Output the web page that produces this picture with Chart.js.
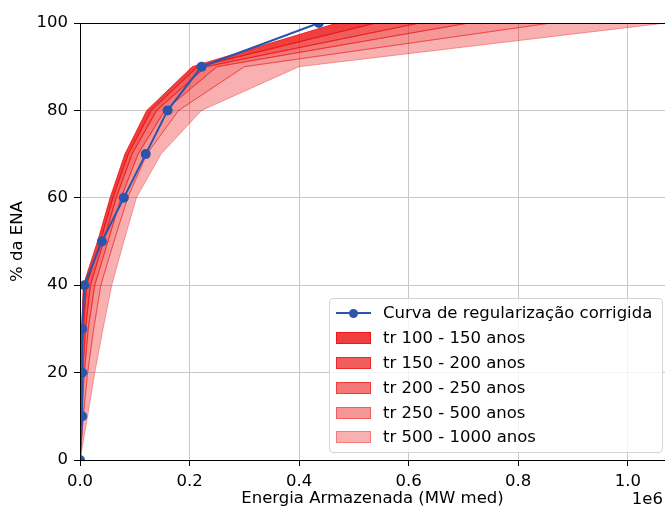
<!DOCTYPE html>
<html lang="pt-BR">
<head>
<meta charset="utf-8">
<title>Curva de regularização</title>
<script src="https://cdn.jsdelivr.net/npm/chart.js@4.4.1/dist/chart.umd.min.js"></script>
<style>
  html, body { margin: 0; padding: 0; background: #fff; }
  #wrap { position: relative; width: 665px; height: 509px; font-family: 'DejaVu Sans', sans-serif; }
  #legend {
    position: absolute; left: 329px; top: 298px; width: 334px; height: 155px;
    box-sizing: border-box; border: 1px solid #d3d3d3; border-radius: 4px;
    background: rgba(255, 255, 255, 0.8); padding-top: 2px;
  }
  .row { display: flex; align-items: center; height: 24.8px; }
  .handle { position: relative; width: 35px; height: 12px; margin-left: 6px; margin-right: 12px; flex: none; }
  .handle .ln { position: absolute; left: 0; top: 5px; width: 35px; height: 2px; }
  .handle .dot { position: absolute; left: 13px; top: 1.5px; width: 9px; height: 9px; border-radius: 50%; }
  .handle .patch { position: absolute; left: 0; top: 0; width: 35px; height: 12px; box-sizing: border-box; }
  .label { font-size: 16.5px; line-height: 20px; color: #000; white-space: nowrap; }
</style>
</head>
<body>
<div id="wrap">
  <canvas id="chart" width="665" height="509"></canvas>
  <div id="legend"></div>
</div>
<script>
(function() {
    'use strict';

    const FONT = 'DejaVu Sans';
    const FONT_SIZE = 16.5;

    // % da ENA (eixo y), comum a todas as curvas
    const enaLevels = [0, 10, 20, 30, 40, 50, 60, 70, 80, 90, 100];

    // Energia armazenada (MW med) para cada nível de ENA
    const curvaCorrigida = [0, 4000, 4000, 4000, 8000, 40000, 80000, 120000, 160000, 222000, 436000];

    // curvas por tempo de retorno
    const tr100  = [0, 1000, 2000, 3000, 6000, 32000, 55000, 82000, 122000, 205000, 470000];
    const tr150  = [0, 1000, 3000, 6000, 12000, 37000, 60000, 88000, 130000, 215000, 540000];
    const tr200  = [0, 2000, 5000, 10000, 19000, 43000, 66000, 95000, 140000, 230000, 620000];
    const tr250  = [0, 3000, 8000, 15000, 27000, 51000, 75000, 106000, 155000, 250000, 710000];
    const tr500  = [0, 6000, 14000, 25000, 38000, 62000, 87000, 122000, 180000, 300000, 860000];
    const tr1000 = [0, 14000, 27000, 42000, 58000, 80000, 103000, 148000, 222000, 400000, 1070000];

    const bandLabels = ['tr 100 - 150 anos', 'tr 150 - 200 anos', 'tr 200 - 250 anos', 'tr 250 - 500 anos', 'tr 500 - 1000 anos'];
    const bandAlphas = [0.8, 0.68, 0.56, 0.43, 0.33];
    const bandLimits = [tr100, tr150, tr200, tr250, tr500, tr1000];

    const xTicks = [0, 200000, 400000, 600000, 800000, 1000000];
    const yTickStep = 20;

    const BLUE = '#2b55ad';

    // polígono fechado: sobe pela curva da esquerda e desce pela da direita
    function bandPoints(left, right) {
        const up = enaLevels.map((y, i) => ({ x: left[i], y: y }));
        const down = enaLevels.map((y, i) => ({ x: right[i], y: y })).reverse();
        return up.concat(down);
    }

    const datasets = [{
        label: 'Curva de regularização corrigida',
        data: enaLevels.map((y, i) => ({ x: curvaCorrigida[i], y: y })),
        borderColor: BLUE,
        backgroundColor: BLUE,
        borderWidth: 2,
        pointRadius: 5,
        pointBorderWidth: 0,
        fill: false,
        clip: 0,
        order: 0
    }];

    bandLabels.forEach((label, i) => {
        const color = 'rgba(235, 15, 15, ' + bandAlphas[i] + ')';
        datasets.push({
            label: label,
            data: bandPoints(bandLimits[i], bandLimits[i + 1]),
            borderColor: color,
            backgroundColor: color,
            borderWidth: 1,
            pointRadius: 0,
            fill: 'shape',
            clip: 0,
            order: i + 1
        });
    });

    // eixos do matplotlib: esquerda, base e topo por cima das séries
    const spines = {
        id: 'spines',
        afterDatasetsDraw(chart) {
            const { ctx, chartArea: a } = chart;
            const px = v => Math.round(v - 0.5) + 0.5;
            ctx.save();
            ctx.strokeStyle = '#000';
            ctx.lineWidth = 1;
            ctx.beginPath();
            ctx.moveTo(px(a.left), px(a.bottom));
            ctx.lineTo(px(a.left), px(a.top));
            ctx.moveTo(a.left, px(a.top));
            ctx.lineTo(a.right, px(a.top));
            ctx.moveTo(a.left, px(a.bottom));
            ctx.lineTo(a.right, px(a.bottom));
            ctx.stroke();
            ctx.restore();
        },
        afterDraw(chart) {
            // multiplicador do eixo x
            const { ctx, chartArea: a } = chart;
            ctx.save();
            ctx.fillStyle = '#000';
            ctx.font = FONT_SIZE + 'px "' + FONT + '"';
            ctx.textAlign = 'right';
            ctx.textBaseline = 'middle';
            ctx.fillText('1e6', a.right - 2, 500);
            ctx.restore();
        }
    };

    const chart = new Chart(document.getElementById('chart'), {
        type: 'line',
        data: { datasets: datasets },
        options: {
            responsive: false,
            animation: false,
            events: [],
            layout: { autoPadding: false, padding: { top: 23, right: 0, bottom: 0, left: 0 } },
            elements: { line: { tension: 0 } },
            plugins: {
                legend: { display: false },
                tooltip: { enabled: false }
            },
            scales: {
                x: {
                    type: 'linear',
                    min: 0,
                    max: 1068000,
                    grid: { color: '#c8c8c8', lineWidth: 1, tickLength: 6, tickColor: '#000' },
                    border: { color: '#000', width: 1 },
                    ticks: {
                        maxRotation: 0,
                        autoSkip: false,
                        padding: 6,
                        color: '#000',
                        font: { family: FONT, size: FONT_SIZE },
                        callback: v => (v / 1e6).toFixed(1)
                    },
                    afterBuildTicks: s => { s.ticks = xTicks.map(v => ({ value: v })); },
                    title: {
                        display: true,
                        text: 'Energia Armazenada (MW med)',
                        color: '#000',
                        font: { family: FONT, size: FONT_SIZE },
                        padding: { top: 0, bottom: 0 }
                    },
                    afterFit: s => { s.height = 49; }
                },
                y: {
                    min: 0,
                    max: 100,
                    grid: { color: '#c8c8c8', lineWidth: 1, tickLength: 6, tickColor: '#000' },
                    border: { color: '#000', width: 1 },
                    ticks: {
                        stepSize: yTickStep,
                        padding: 6,
                        color: '#000',
                        font: { family: FONT, size: FONT_SIZE }
                    },
                    title: {
                        display: true,
                        text: '% da ENA',
                        color: '#000',
                        font: { family: FONT, size: FONT_SIZE },
                        padding: { top: 8, bottom: 0 }
                    },
                    afterFit: s => { s.width = 80; }
                }
            }
        },
        plugins: [spines]
    });

    // legenda em HTML, montada a partir dos datasets
    function buildLegend() {
        const box = document.getElementById('legend');
        chart.data.datasets.forEach((ds, i) => {
            const row = document.createElement('div');
            row.className = 'row';
            const handle = document.createElement('div');
            handle.className = 'handle';
            if (i === 0) {
                const ln = document.createElement('div');
                ln.className = 'ln';
                ln.style.background = ds.borderColor;
                const dot = document.createElement('div');
                dot.className = 'dot';
                dot.style.background = ds.backgroundColor;
                handle.appendChild(ln);
                handle.appendChild(dot);
            } else {
                const patch = document.createElement('div');
                patch.className = 'patch';
                patch.style.background = ds.backgroundColor;
                patch.style.border = '1px solid ' + ds.borderColor;
                handle.appendChild(patch);
            }
            const label = document.createElement('span');
            label.className = 'label';
            label.textContent = ds.label;
            row.appendChild(handle);
            row.appendChild(label);
            box.appendChild(row);
        });
    }

    buildLegend();
})();
</script>
</body>
</html>
